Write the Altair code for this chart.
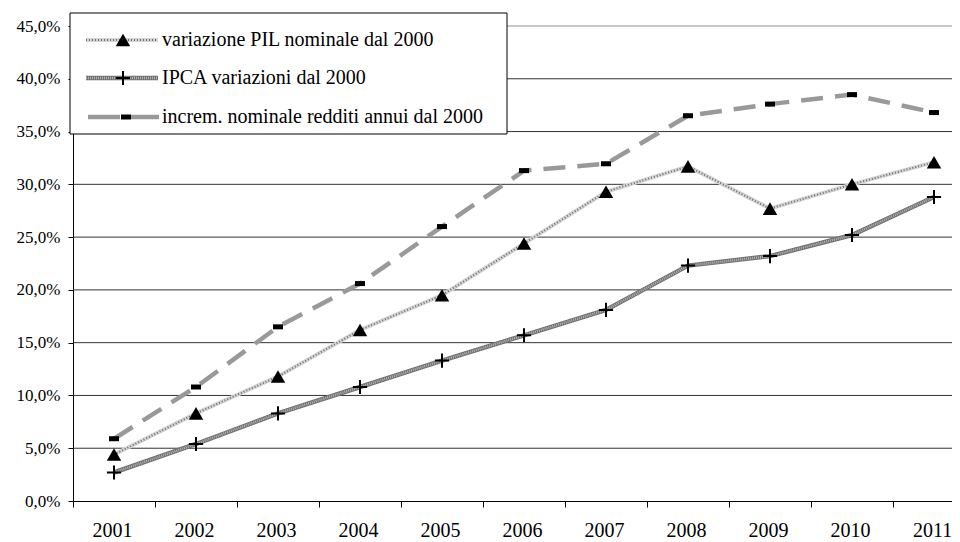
import altair as alt
import pandas as pd

years = [2001, 2002, 2003, 2004, 2005, 2006, 2007, 2008, 2009, 2010, 2011]
pil = [4.4, 8.3, 11.8, 16.2, 19.5, 24.4, 29.3, 31.7, 27.7, 30.0, 32.1]
ipca = [2.7, 5.4, 8.3, 10.8, 13.3, 15.7, 18.1, 22.3, 23.2, 25.2, 28.8]
redditi = [5.9, 10.8, 16.5, 20.6, 26.0, 31.3, 31.95, 36.5, 37.6, 38.5, 36.8]

series_names = [
    "variazione PIL nominale dal 2000",
    "IPCA variazioni dal 2000",
    "increm. nominale redditi annui dal 2000",
]
grid_values = [5, 10, 15, 20, 25, 30, 35, 40]
top_value = [45]
y_ticks = [0, 5, 10, 15, 20, 25, 30, 35, 40, 45]

FONT = "Liberation Serif, Times New Roman, serif"
W, H = 879, 475

df = pd.DataFrame({"year": years, "pil": pil, "ipca": ipca, "redditi": redditi})

xscale = alt.Scale(domain=[2000.5, 2000.5 + W / 82.0], nice=False, zero=False)
yscale = alt.Scale(domain=[0, 45], nice=False)

xax = alt.Axis(values=years, format="d", title=None, grid=False, tickOffset=-41,
               labelOffset=39, tickSize=6, tickColor="black", domainColor="black",
               labelFont=FONT, labelFontSize=20, labelColor="black", labelPadding=13,
               labelFlush=False, labelOverlap=False)
yax = alt.Axis(values=y_ticks, title=None, grid=False, tickSize=5, tickColor="black",
               domainColor="black", labelFont=FONT, labelFontSize=17, labelColor="black",
               labelPadding=8,
               labelExpr="replace(format(datum.value, '.1f'), '.', ',') + '%'")

base = alt.Chart(df)
X = alt.X("year:Q", scale=xscale, axis=xax)

grid = alt.Chart(pd.DataFrame({"g": grid_values})).mark_rule(color="#333333", strokeWidth=1).encode(
    y=alt.Y("g:Q", scale=yscale, axis=yax))
top = alt.Chart(pd.DataFrame({"g": top_value})).mark_rule(color="#c8c8c8", strokeWidth=2).encode(
    y=alt.Y("g:Q", scale=yscale))

PLUS = "M-1,0H1M0,-1V1"
DASH = "M-1,-0.5H1V0.5H-1Z"

PIL_A, PIL_B = "#d4d4d4", "#6e6e6e"
IPCA_A, IPCA_B = "#707070", "#b4b4b4"
RED_C = "#999999"
TRI_SIZE = 210

pil_base = base.mark_line(color=PIL_A, strokeWidth=4).encode(x=X, y=alt.Y("pil:Q", scale=yscale))
pil_dots = base.mark_line(color=PIL_B, strokeWidth=2, strokeDash=[1, 2]).encode(x=X, y=alt.Y("pil:Q", scale=yscale))
pil_pts = base.mark_point(shape="triangle-up", filled=True, color="black", size=TRI_SIZE, opacity=1).encode(
    x=X, y=alt.Y("pil:Q", scale=yscale))

ipca_edge = base.mark_line(color=IPCA_A, strokeWidth=4.5).encode(x=X, y=alt.Y("ipca:Q", scale=yscale))
ipca_in = base.mark_line(color=IPCA_B, strokeWidth=2.5, strokeDash=[1, 1]).encode(x=X, y=alt.Y("ipca:Q", scale=yscale))
ipca_pts = base.mark_point(shape=PLUS, filled=False, color="black", strokeWidth=2, size=200, opacity=1).encode(
    x=X, y=alt.Y("ipca:Q", scale=yscale))

red_line = base.mark_line(color=RED_C, strokeWidth=4.5, strokeDash=[22, 12]).encode(x=X, y=alt.Y("redditi:Q", scale=yscale))
red_pts = base.mark_point(shape=DASH, filled=True, color="black", size=100, opacity=1).encode(
    x=X, y=alt.Y("redditi:Q", scale=yscale))

one = pd.DataFrame({"a": [0]})
leg_box = alt.Chart(one).mark_rect(fill="white", stroke="black", strokeWidth=1).encode(
    x=alt.value(-3), x2=alt.value(434), y=alt.value(-13), y2=alt.value(108))

rows_y = [14, 52, 91]
leg_pil_a = alt.Chart(one).mark_rule(color=PIL_A, strokeWidth=4).encode(
    x=alt.value(13), x2=alt.value(85), y=alt.value(rows_y[0]))
leg_pil_b = alt.Chart(one).mark_rule(color=PIL_B, strokeWidth=2, strokeDash=[1, 2]).encode(
    x=alt.value(13), x2=alt.value(85), y=alt.value(rows_y[0]))
leg_pil_m = alt.Chart(one).mark_point(shape="triangle-up", filled=True, color="black", size=TRI_SIZE, opacity=1).encode(
    x=alt.value(50), y=alt.value(rows_y[0]))
leg_ipca_a = alt.Chart(one).mark_rule(color=IPCA_A, strokeWidth=4.5).encode(
    x=alt.value(13), x2=alt.value(85), y=alt.value(rows_y[1]))
leg_ipca_b = alt.Chart(one).mark_rule(color=IPCA_B, strokeWidth=2.5, strokeDash=[1, 1]).encode(
    x=alt.value(13), x2=alt.value(85), y=alt.value(rows_y[1]))
leg_ipca_m = alt.Chart(one).mark_point(shape=PLUS, filled=False, color="black", strokeWidth=2, size=200, opacity=1).encode(
    x=alt.value(50), y=alt.value(rows_y[1]))
leg_red_a = alt.Chart(one).mark_rule(color=RED_C, strokeWidth=4.5).encode(
    x=alt.value(15), x2=alt.value(47), y=alt.value(rows_y[2]))
leg_red_b = alt.Chart(one).mark_rule(color=RED_C, strokeWidth=4.5).encode(
    x=alt.value(58), x2=alt.value(86), y=alt.value(rows_y[2]))
leg_red_m = alt.Chart(one).mark_point(shape=DASH, filled=True, color="black", size=100, opacity=1).encode(
    x=alt.value(53), y=alt.value(rows_y[2]))

leg_text = alt.Chart(pd.DataFrame({"label": series_names, "yy": rows_y})).mark_text(
    align="left", baseline="middle", font=FONT, fontSize=20, color="black").encode(
    x=alt.value(89), y=alt.Y("yy:Q", scale=None), text="label:N")

chart = alt.layer(
    grid, top,
    pil_base, pil_dots,
    ipca_edge, ipca_in,
    red_line,
    pil_pts, ipca_pts, red_pts,
    leg_box, leg_pil_a, leg_pil_b, leg_pil_m, leg_ipca_a, leg_ipca_b, leg_ipca_m,
    leg_red_a, leg_red_b, leg_red_m, leg_text,
).properties(
    width=W, height=H,
    autosize=alt.AutoSizeParams(type="none"),
    padding={"left": 65, "top": 18, "right": 0, "bottom": 41},
).configure_view(stroke=None).configure(background="white")

chart.save("out.html", embed_options={"renderer": "svg", "actions": False})
